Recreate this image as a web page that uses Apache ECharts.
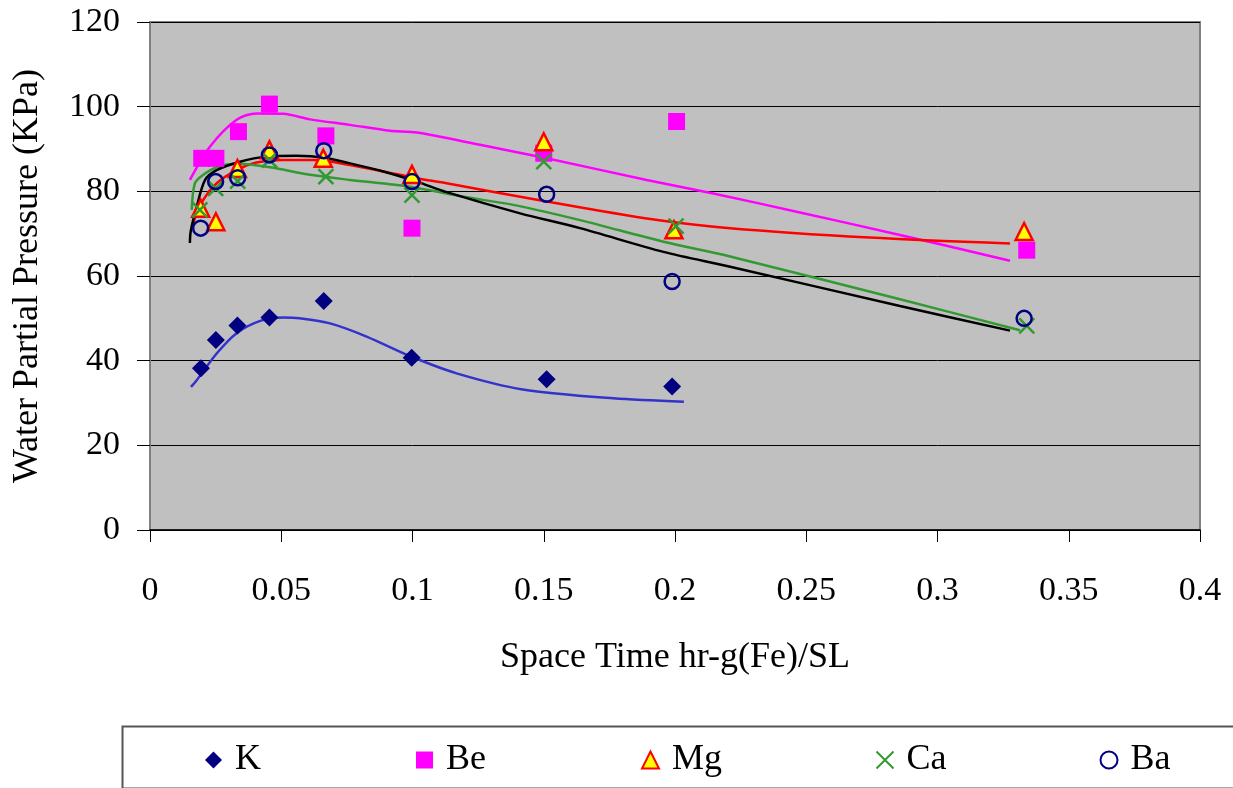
<!DOCTYPE html>
<html>
<head>
<meta charset="utf-8">
<script src="https://cdn.jsdelivr.net/npm/echarts@6/dist/echarts.min.js"></script>
<style>
  html, body { margin: 0; padding: 0; background: #fff; }
  #chart { width: 1233px; height: 788px; }
</style>
</head>
<body>
<div id="chart"></div>
<script>
// measured points
const kX = [0.0194, 0.0251, 0.0333, 0.0455, 0.0662, 0.0997, 0.1511, 0.1989];
const kY = [38.2, 44.9, 48.3, 50.2, 54.1, 40.7, 35.6, 33.9];
const beX = [0.0197, 0.0251, 0.0337, 0.0455, 0.067, 0.0998, 0.150, 0.2006, 0.334];
const beY = [87.8, 87.8, 94.1, 100.6, 93.1, 71.3, 89.0, 96.5, 66.1];
const mgX = [0.0193, 0.0251, 0.0333, 0.0455, 0.066, 0.0998, 0.150, 0.1996, 0.333];
const mgY = [76.0, 72.8, 85.4, 89.8, 87.8, 84.0, 91.7, 70.9, 70.5];
const caX = [0.019, 0.025, 0.0334, 0.0455, 0.067, 0.0998, 0.150, 0.2004, 0.334];
const caY = [75.6, 80.7, 82.4, 87.4, 83.5, 79.1, 87.0, 71.8, 48.2];
const baX = [0.0193, 0.025, 0.0334, 0.0455, 0.0662, 0.0998, 0.1511, 0.1989, 0.333];
const baY = [71.3, 82.3, 83.2, 88.6, 89.6, 82.3, 79.3, 58.7, 50.0];

// trend lines
const kTrend = [[0.0156, 33.8], [0.0178, 35.4], [0.0254, 41.7], [0.033, 46.5], [0.042, 49.4], [0.0508, 50.2], [0.057, 50.0], [0.0686, 48.8], [0.0825, 45.7], [0.099, 41.1], [0.1168, 37.0], [0.142, 33.2], [0.1765, 31.1], [0.2034, 30.3]];
const beTrend = [[0.0152, 82.7], [0.0229, 90.6], [0.033, 96.9], [0.0406, 98.4], [0.0508, 98.3], [0.061, 97.0], [0.0762, 95.7], [0.0914, 94.3], [0.1016, 93.9], [0.1257, 91.0], [0.1511, 87.8], [0.1892, 82.7], [0.2146, 79.5], [0.2476, 75.0], [0.2857, 69.7], [0.3276, 63.6]];
const mgTrend = [[0.0159, 71.7], [0.0203, 78.0], [0.0254, 81.9], [0.033, 85.0], [0.0406, 86.8], [0.0508, 87.4], [0.0635, 87.4], [0.0762, 86.2], [0.0889, 84.7], [0.1016, 83.1], [0.113, 81.9], [0.1511, 77.6], [0.1892, 73.6], [0.221, 71.3], [0.274, 69.1], [0.3276, 67.7]];
const caTrend = [[0.0159, 75.6], [0.0171, 81.9], [0.0203, 83.9], [0.0254, 85.7], [0.033, 86.5], [0.0457, 85.7], [0.061, 83.9], [0.0762, 82.7], [0.099, 81.1], [0.1194, 78.7], [0.1384, 76.8], [0.1638, 73.2], [0.1956, 68.1], [0.221, 64.6], [0.2857, 54.5], [0.3314, 47.2]];
const baTrend = [[0.0152, 67.8], [0.0155, 70.5], [0.0178, 76.4], [0.021, 82.7], [0.0254, 85.0], [0.0343, 87.0], [0.0444, 88.2], [0.0559, 88.4], [0.066, 88.0], [0.0762, 86.6], [0.0889, 84.7], [0.1016, 82.3], [0.113, 79.8], [0.141, 74.8], [0.1638, 71.3], [0.1956, 65.7], [0.221, 62.2], [0.2857, 52.9], [0.3276, 47.1]];

const names = ["K", "Be", "Mg", "Ca", "Ba"];
const legendLeft = [200, 411, 636, 869, 1093];

const font = "'Liberation Serif', 'Times New Roman', serif";
const crossPath = "path://M0,0L10,10M10,0L0,10";

const pairs = (xs, ys) => xs.map((x, i) => [x, ys[i]]);

const chart = echarts.init(document.getElementById("chart"));

const scatterStyles = [
  { symbol: "diamond", symbolSize: 18, itemStyle: { color: "#000080", opacity: 1 } },
  { symbol: "rect", symbolSize: 17, itemStyle: { color: "#FF00FF", opacity: 1 } },
  { symbol: "triangle", symbolSize: 17, itemStyle: { color: "#FFFF00", borderColor: "#FF0000", borderWidth: 2.5, opacity: 1 } },
  { symbol: crossPath, symbolSize: 15, itemStyle: { color: "none", borderColor: "#339933", borderWidth: 2.5, opacity: 1 } },
  { symbol: "circle", symbolSize: 15, itemStyle: { color: "none", borderColor: "#000080", borderWidth: 2.5, opacity: 1 } },
];
const scatterData = [pairs(kX, kY), pairs(beX, beY), pairs(mgX, mgY), pairs(caX, caY), pairs(baX, baY)];
const trends = [kTrend, beTrend, mgTrend, caTrend, baTrend];
const trendColors = ["#3333CC", "#FF00FF", "#FF0000", "#339933", "#000000"];

const series = [];
trends.forEach((t, i) => {
  series.push({
    name: names[i] + " trend",
    type: "line",
    data: t,
    smooth: 0.3,
    showSymbol: false,
    silent: true,
    lineStyle: { color: trendColors[i], width: 2.5 },
    z: 2,
  });
});
names.forEach((n, i) => {
  series.push(Object.assign({ name: n, type: "scatter", data: scatterData[i], z: 3 }, scatterStyles[i]));
});

const legends = names.map((n, i) => ({
  data: [n],
  left: legendLeft[i],
  top: 737,
  itemWidth: 17,
  itemHeight: 17,
  textStyle: { fontFamily: font, fontSize: 36, color: "#000", padding: [0, 0, 0, 8] },
}));

const option = {
  animation: false,
  backgroundColor: "#fff",
  graphic: [{
    type: "rect",
    left: 120,
    top: 724,
    shape: { width: 1120, height: 62 },
    style: { fill: "none", stroke: "#555", lineWidth: 2 },
  }],
  legend: legends,
  grid: {
    left: 150, right: 33, top: 22, bottom: 258,
    show: true,
    backgroundColor: "#C0C0C0",
    borderColor: "#808080",
    borderWidth: 2,
  },
  xAxis: {
    type: "value",
    min: 0, max: 0.4, interval: 0.05,
    name: "Space Time hr-g(Fe)/SL",
    nameLocation: "middle",
    nameGap: 110,
    nameTextStyle: { fontFamily: font, fontSize: 36, color: "#000" },
    axisLine: { onZero: false, lineStyle: { color: "#000", width: 1.5 } },
    axisTick: { show: true, length: 12, lineStyle: { color: "#000" } },
    axisLabel: { fontFamily: font, fontSize: 34, color: "#000", margin: 44 },
    splitLine: { show: false },
  },
  yAxis: {
    type: "value",
    min: 0, max: 120, interval: 20,
    name: "Water Partial Pressure (KPa)",
    nameLocation: "middle",
    nameGap: 104,
    nameTextStyle: { fontFamily: font, fontSize: 36, color: "#000" },
    axisLine: { show: true, lineStyle: { color: "#808080", width: 2 } },
    axisTick: { show: true, length: 13, lineStyle: { color: "#000" } },
    axisLabel: { fontFamily: font, fontSize: 34, color: "#000", margin: 30 },
    splitLine: { show: true, lineStyle: { color: "#000", width: 1 } },
  },
  series: series,
};
chart.setOption(option);
</script>
</body>
</html>
